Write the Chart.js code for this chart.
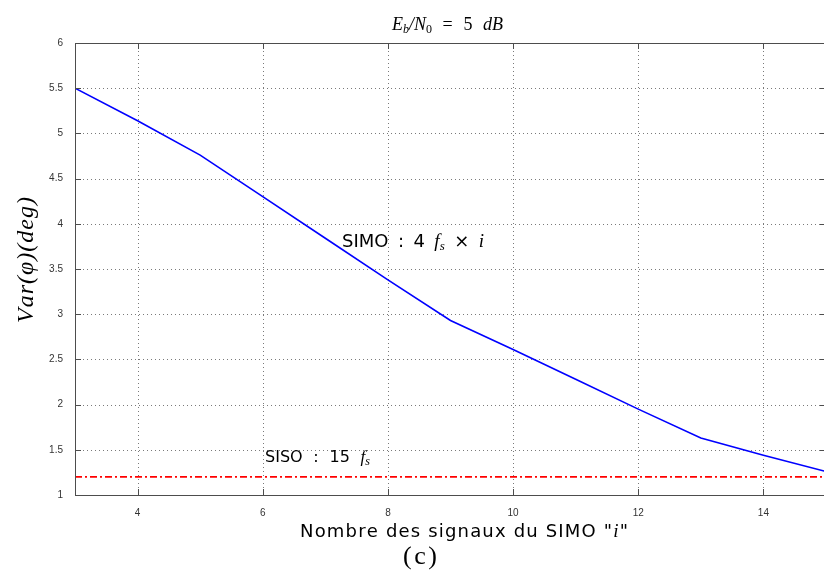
<!DOCTYPE html>
<html>
<head>
<meta charset="utf-8">
<script src="https://cdn.jsdelivr.net/npm/chart.js@4"></script>
<style>
  html, body { margin: 0; padding: 0; background: #fff; overflow: hidden; }
  #wrap { width: 830px; height: 580px; }
</style>
</head>
<body>
<div id="wrap"><canvas id="chart" width="830" height="580"></canvas></div>
<script>
// values
const signalCount = [3, 4, 5, 6, 7, 8, 9, 10, 11, 12, 13, 14, 15];
const simoVar = [5.5, 5.14, 4.76, 4.30, 3.84, 3.38, 2.93, 2.61, 2.28, 1.95, 1.63, 1.44, 1.26];
const sisoX = [3, 15];
const sisoVar = [1.2, 1.2];
const xTicks = [4, 6, 8, 10, 12, 14];
const yTicks = [1, 1.5, 2, 2.5, 3, 3.5, 4, 4.5, 5, 5.5, 6];

const gridColor = '#7a7a7a';
const frameColor = '#4d4d4d';

// draws [text, font, dy] pieces from x0, stretched to width w
// mode 'spaces' puts the extra room in the spaces, 'chars' between every glyph
function drawRun(ctx, parts, x0, by, w, mode) {
  const glyphs = [];
  parts.forEach(p => { for (const c of p[0]) glyphs.push([c, p[1], p[2] || 0]); });
  let natural = 0;
  glyphs.forEach(g => { ctx.font = g[1]; g.push(ctx.measureText(g[0]).width); natural += g[3]; });
  const slots = mode === 'spaces' ? glyphs.filter(g => g[0] === ' ').length : glyphs.length - 1;
  const extra = slots > 0 ? (w - natural) / slots : 0;
  let px = x0;
  glyphs.forEach((g, i) => {
    ctx.font = g[1];
    ctx.fillText(g[0], px, by + g[2]);
    px += g[3];
    if (mode === 'spaces' ? g[0] === ' ' : i < glyphs.length - 1) px += extra;
  });
}

// grid, box and inward ticks, MATLAB style
const matlabAxes = {
  id: 'matlabAxes',
  beforeDatasetsDraw(chart) {
    const { ctx, chartArea: a, scales: { x, y } } = chart;
    ctx.save();
    ctx.strokeStyle = gridColor;
    ctx.lineWidth = 1;
    ctx.setLineDash([1, 3]);
    xTicks.forEach(v => {
      const px = Math.round(x.getPixelForValue(v)) + 0.5;
      ctx.beginPath(); ctx.moveTo(px, a.top); ctx.lineTo(px, a.bottom); ctx.stroke();
    });
    yTicks.forEach(v => {
      const py = Math.round(y.getPixelForValue(v)) + 0.5;
      ctx.beginPath(); ctx.moveTo(a.left, py); ctx.lineTo(a.right, py); ctx.stroke();
    });
    ctx.restore();
  },
  afterDatasetsDraw(chart) {
    const { ctx, chartArea: a, scales: { x, y } } = chart;
    ctx.save();
    ctx.strokeStyle = frameColor;
    ctx.lineWidth = 1;
    ctx.strokeRect(Math.round(a.left) + 0.5, Math.round(a.top) + 0.5,
      Math.round(a.right - a.left), Math.round(a.bottom - a.top));
    const t = 6;
    ctx.beginPath();
    xTicks.forEach(v => {
      const px = Math.round(x.getPixelForValue(v)) + 0.5;
      ctx.moveTo(px, a.bottom); ctx.lineTo(px, a.bottom - t);
      ctx.moveTo(px, a.top); ctx.lineTo(px, a.top + t);
    });
    yTicks.forEach(v => {
      const py = Math.round(y.getPixelForValue(v)) + 0.5;
      ctx.moveTo(a.left, py); ctx.lineTo(a.left + t, py);
      ctx.moveTo(a.right, py); ctx.lineTo(a.right - t, py);
    });
    ctx.stroke();
    ctx.restore();
  },
  afterDraw(chart) {
    const { ctx } = chart;
    ctx.save();
    ctx.fillStyle = '#000';
    ctx.textBaseline = 'alphabetic';
    ctx.textAlign = 'left';

    const it = 'italic 18px "Liberation Serif"';
    const rm = '18px "Liberation Serif"';
    drawRun(ctx, [['E', it], ['b', 'italic 12px "Liberation Serif"', 3], ['/N', it],
      ['0', '12px "Liberation Serif"', 3], [' = 5 ', rm], ['dB', it]], 392, 30, 111, 'spaces');

    const mi = 'italic 19px "Liberation Serif"';
    const ms = 'italic 13px "Liberation Serif"';
    drawRun(ctx, [['SIMO : 4 ', '18px "DejaVu Sans"'], ['f', mi], ['s', ms, 3],
      [' \u00d7 ', '18px "DejaVu Sans"'], ['i', mi]], 342, 247, 142, 'spaces');
    drawRun(ctx, [['SISO : 15 ', '16px "DejaVu Sans"'], ['f', 'italic 17px "Liberation Serif"'],
      ['s', 'italic 12px "Liberation Serif"', 3]], 265, 462, 105, 'spaces');

    drawRun(ctx, [['Nombre des signaux du SIMO "', '18px "DejaVu Sans"'],
      ['i', 'italic 19px "Liberation Serif"'], ['"', '18px "DejaVu Sans"']], 300, 537, 328, 'chars');

    drawRun(ctx, [['(c)', '26px "Liberation Serif"']], 403, 564, 34, 'chars');

    ctx.translate(33, 323);
    ctx.rotate(-Math.PI / 2);
    drawRun(ctx, [['Var(\u03c6)(deg)', 'italic 24px "Liberation Serif"']], 0, 0, 126, 'chars');
    ctx.restore();
  }
};

new Chart(document.getElementById('chart'), {
  type: 'line',
  data: {
    datasets: [{
      label: 'SIMO',
      data: signalCount.map((v, i) => ({ x: v, y: simoVar[i] })),
      borderColor: '#0000ff',
      borderWidth: 1.6,
      pointRadius: 0,
      tension: 0
    }, {
      label: 'SISO',
      data: sisoX.map((v, i) => ({ x: v, y: sisoVar[i] })),
      borderColor: '#ff0000',
      borderWidth: 1.6,
      borderDash: [7, 3, 2, 3],
      pointRadius: 0
    }]
  },
  options: {
    responsive: false,
    animation: false,
    layout: { padding: { top: 43, right: 4, left: 0, bottom: 0 } },
    plugins: { legend: { display: false }, tooltip: { enabled: false } },
    scales: {
      x: {
        type: 'linear',
        min: 3,
        max: 15,
        afterBuildTicks: s => { s.ticks = xTicks.map(v => ({ value: v })); },
        afterFit: s => { s.height = 85; },
        grid: { display: false },
        border: { display: false },
        ticks: {
          padding: 4,
          color: '#333',
          font: { family: 'Liberation Sans', size: 10 },
          maxRotation: 0,
          callback: v => String(v)
        }
      },
      y: {
        min: 1,
        max: 6,
        afterBuildTicks: s => { s.ticks = yTicks.map(v => ({ value: v })); },
        afterFit: s => { s.width = 75; },
        grid: { display: false },
        border: { display: false },
        ticks: {
          padding: 4,
          color: '#333',
          font: { family: 'Liberation Sans', size: 10 },
          callback: v => String(v)
        }
      }
    }
  },
  plugins: [matlabAxes]
});
</script>
</body>
</html>
